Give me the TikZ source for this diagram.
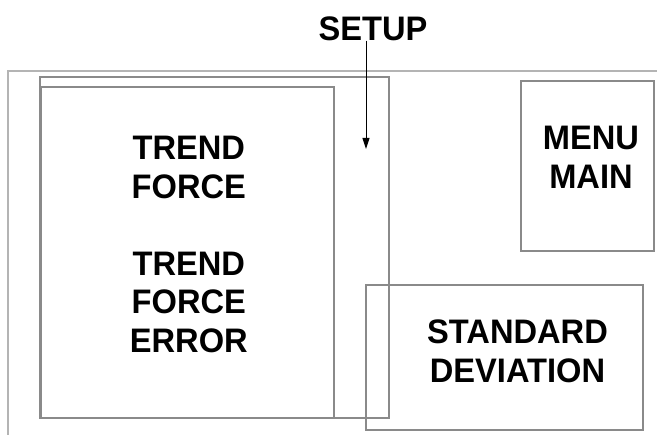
\documentclass[tikz,border=0pt]{standalone}
\usepackage{fontspec}
\setmainfont[FakeStretch=0.96]{Liberation Sans}
\usetikzlibrary{arrows.meta}
\definecolor{boxgray}{HTML}{8A8A8A}
\definecolor{framegray}{HTML}{B4B4B4}

\begin{document}
\begin{tikzpicture}[x=1pt,y=-1pt,
    box/.style = {draw=boxgray,line width=1.1pt},
    frame/.style = {draw=framegray,line width=1.5pt},
    label/.style = {font=\fontsize{34}{38.5}\selectfont\bfseries,align=center,inner sep=0pt}]
        \useasboundingbox (0,0) rectangle (657,435);

        % screen edges
        \draw[frame] (8,435) -- (8,71) -- (657,71);

        % windows
        \draw[box] (40,77) rectangle (389,418);
        \draw[box] (41,87) rectangle (334,418);
        \draw[box] (521,81) rectangle (654,251);
        \draw[box] (366,285) rectangle (643,430);

        \node[label](trend) at (188.8,244.3){TREND\\FORCE\\[38.5pt]TREND\\FORCE\\ERROR};
        \node[label](menu) at (591,157.5){MENU\\MAIN};
        \node[label](stdev) at (517.5,351.3){STANDARD\\DEVIATION};
        \node[label](setup) at (373,28.4){SETUP};
        \coordinate (tip) at (366,149);

        \draw[-{Triangle[length=11pt,width=7pt]},line width=1pt] (setup.south -| tip) -- (tip);
      \end{tikzpicture}
\end{document}
